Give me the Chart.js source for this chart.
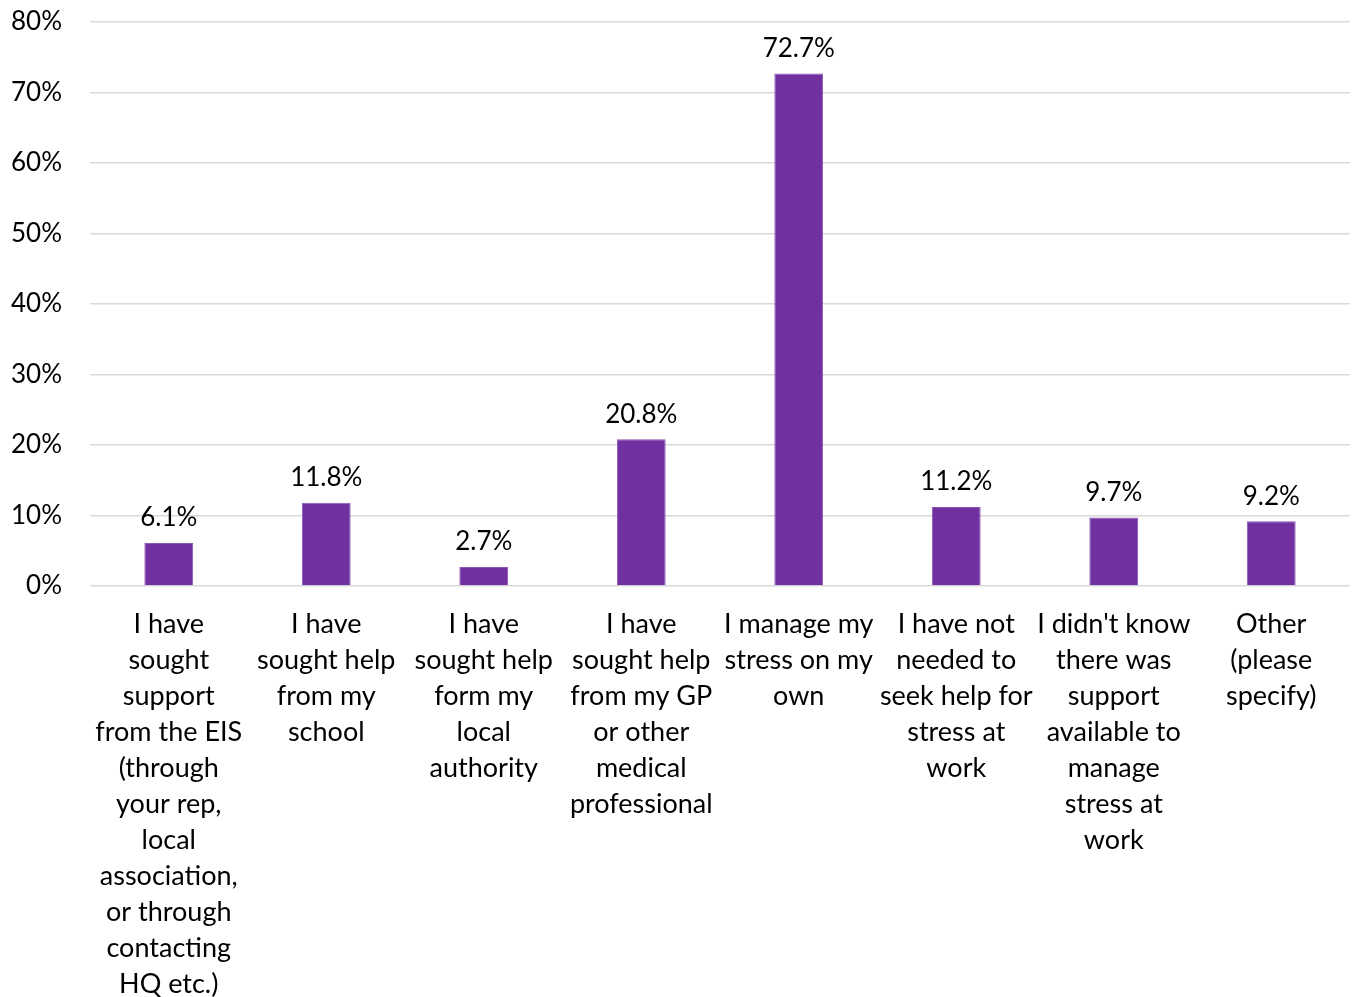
<!DOCTYPE html>
<html>
<head>
<meta charset="utf-8">
<script src="https://cdn.jsdelivr.net/npm/chart.js@4/dist/chart.umd.min.js"></script>
<style>
  html, body { margin: 0; padding: 0; background: #fff; }
  #wrap { width: 1357px; height: 997px; }
</style>
</head>
<body>
<div id="wrap"><canvas id="c" width="1357" height="997"></canvas></div>
<script>
// categories (already wrapped like the original)
const categories = [
    ['I have', 'sought', 'support', 'from the EIS', '(through', 'your rep,', 'local', 'association,', 'or through', 'contacting', 'HQ etc.)'],
    ['I have', 'sought help', 'from my', 'school'],
    ['I have', 'sought help', 'form my', 'local', 'authority'],
    ['I have', 'sought help', 'from my GP', 'or other', 'medical', 'professional'],
    ['I manage my', 'stress on my', 'own'],
    ['I have not', 'needed to', 'seek help for', 'stress at', 'work'],
    ["I didn't know", 'there was', 'support', 'available to', 'manage', 'stress at', 'work'],
    ['Other', '(please', 'specify)']
];
const values = [6.1, 11.8, 2.7, 20.8, 72.7, 11.2, 9.7, 9.2];

const FONT = 'Lato, "Open Sans", sans-serif';

// ================= LABELS =================
const valueLabels = {
    id: 'valueLabels',
    afterDatasetsDraw(chart) {
        const ctx = chart.ctx;
        const meta = chart.getDatasetMeta(0);
        ctx.save();
        ctx.font = '26px ' + FONT;
        ctx.fillStyle = '#000';
        ctx.textAlign = 'center';
        ctx.textBaseline = 'bottom';
        meta.data.forEach((bar, i) => {
            ctx.fillText(values[i].toFixed(1) + '%', bar.x, bar.y - 12);
        });
        ctx.restore();
    }
};

new Chart(document.getElementById('c'), {
    type: 'bar',
    data: {
        labels: categories,
        datasets: [{
            data: values,
            backgroundColor: '#7030A0',
            borderColor: '#8a55b4',
            borderWidth: 1,
            categoryPercentage: 1,
            barPercentage: 0.31
        }]
    },
    options: {
        responsive: false,
        animation: false,
        layout: { padding: { top: 0, right: 7, left: 0, bottom: 0 } },
        plugins: {
            legend: { display: false },
            tooltip: { enabled: false }
        },
        scales: {
            x: {
                grid: { display: false, drawTicks: false },
                border: { display: false },
                ticks: {
                    color: '#000',
                    font: { family: FONT, size: 27, lineHeight: 36 / 27 },
                    autoSkip: false,
                    maxRotation: 0,
                    padding: 20
                },
                afterFit(scale) { scale.height = 411; }
            },
            y: {
                min: 0,
                max: 80,
                grid: { color: '#d9d9d9', lineWidth: 1.5, drawTicks: false },
                border: { display: false },
                ticks: {
                    stepSize: 10,
                    color: '#000',
                    font: { family: FONT, size: 26 },
                    padding: 28,
                    callback: v => v + '%'
                },
                afterFit(scale) {
                    scale.width = 90;
                    // tick padding otherwise pushes the plot top down
                    scale.paddingTop = 22;
                    scale.paddingBottom = 0;
                }
            }
        }
    },
    plugins: [valueLabels]
});
</script>
</body>
</html>
